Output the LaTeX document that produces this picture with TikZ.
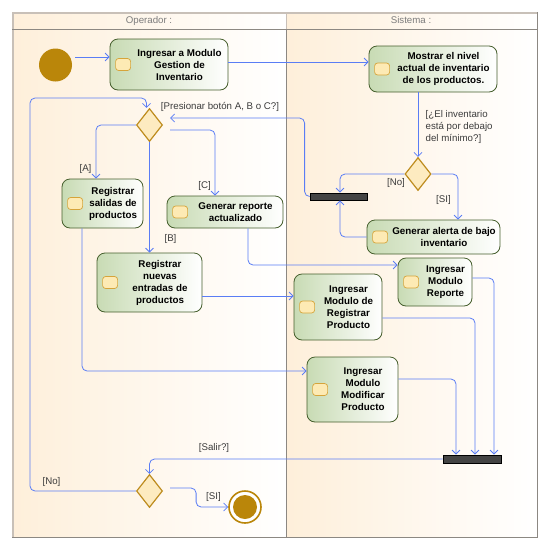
\documentclass[tikz,border=0pt]{standalone}
\usepackage{fontspec}
\setmainfont{Liberation Sans}
\usetikzlibrary{shapes.geometric,arrows.meta,positioning,calc}
\definecolor{flowblue}{RGB}{90,125,245}
\definecolor{actgreen}{RGB}{200,219,180}
\definecolor{actedge}{RGB}{70,95,45}
\definecolor{pinfill}{RGB}{253,234,180}
\definecolor{pinedge}{RGB}{214,164,58}
\definecolor{decfill}{RGB}{253,235,192}
\definecolor{decedge}{RGB}{190,140,30}
\definecolor{gold}{RGB}{186,134,10}
\definecolor{bargray}{RGB}{68,68,68}
\definecolor{lanepeach}{RGB}{254,239,218}
\definecolor{lanegray}{RGB}{140,136,130}
\definecolor{laneedge}{RGB}{200,192,184}
\definecolor{guardgray}{RGB}{60,60,60}
\definecolor{headgray}{RGB}{125,125,125}

\begin{document}
\begin{tikzpicture}[x=1pt,y=-1pt,
    act/.style={draw=actedge, line width=0.8pt, rounded corners=8pt, left color=actgreen, right color=white, inner sep=0pt},
    acttxt/.style={font=\fontsize{9.8}{12}\selectfont\bfseries, align=center, inner sep=0pt},
    pin/.style={draw=pinedge, fill=pinfill, rounded corners=3pt, line width=0.7pt, minimum width=15pt, minimum height=12pt, inner sep=0pt},
    decide/.style={diamond, draw=decedge, fill=decfill, line width=1.2pt, minimum width=26pt, minimum height=33pt, inner sep=0pt},
    forkbar/.style={draw=black, fill=bargray, line width=0.8pt, inner sep=0pt},
    flow/.style={draw=flowblue, line width=0.8pt, rounded corners=5pt, -{Straight Barb[length=4pt,width=8pt]}},
    guard/.style={font=\fontsize{9.7}{12}\selectfont, text=guardgray, inner sep=0pt},
    lanehead/.style={font=\fontsize{9.7}{12}\selectfont, text=headgray, inner sep=0pt}]

    \useasboundingbox (0,0) rectangle (552,547);
    \fill[white] (0,0) rectangle (552,547);

    % Lanes
    \shade[left color=lanepeach, right color=white] (12,12) rectangle (286,537);
    \shade[left color=lanepeach, right color=white] (286,12) rectangle (537,537);
    \draw[laneedge, line width=1.6pt] (12.8,537) -- (12.8,12.8) -- (537,12.8);
    \draw[lanegray, line width=0.9pt] (537,12) -- (537,537) -- (12,537);
    \draw[lanegray, line width=0.9pt] (286,29) -- (286,537);
    \draw[laneedge, line width=0.9pt] (286,12) -- (286,29);
    \draw[lanegray, line width=0.9pt] (12,29) -- (537,29);
    \node[lanehead] (opr) at (149,20.5) {Operador :};
    \node[lanehead] (sys) at (411,20.5) {Sistema :};

    % Actions
    \foreach \n/\cx/\cy/\bw/\bh/\txt in {
        a1/169/64.5/118/51/{Ingresar a Modulo\\Gestion de\\Inventario},
        a2/433/69/128/46/{Mostrar el nivel\\actual de inventario\\de los productos.},
        dA/102.5/203.5/81/49/{Registrar\\salidas de\\productos},
        dC/225/212/116/32/{Generar reporte\\actualizado},
        dB/149.5/282.5/105/59/{Registrar\\nuevas\\entradas de\\productos},
        alert/433.5/237/133/34/{Generar alerta de bajo\\inventario},
        rep/435/282/74/48/{Ingresar\\Modulo\\Reporte},
        reg/338/307/88/66/{Ingresar\\Modulo de\\Registrar\\Producto},
        mod/352.5/389.5/91/65/{Ingresar\\Modulo\\Modificar\\Producto}} {
        \node[act, minimum width=\bw pt, minimum height=\bh pt] (\n) at (\cx,\cy) {};
        \node[pin] (\n p) at ([xshift=13.5pt]\n.west) {};
        \node[acttxt] (\n t) at ([xshift=10.5pt]\n.center) {\txt};
    }

    % Control nodes
    \node[circle, fill=gold, minimum size=33pt, inner sep=0pt] (start) at (55.5,65) {};
    \node[decide] (dec1) at (149.5,125) {};
    \node[decide] (dec2) at (418,174) {};
    \node[decide] (dec3) at (149.5,491) {};
    \node[forkbar, minimum width=57pt, minimum height=7pt] (bar1) at (338.5,196.5) {};
    \node[forkbar, minimum width=58pt, minimum height=8pt] (bar2) at (472,459) {};
    \node[circle, draw=gold, fill=white, line width=1.6pt, minimum size=32pt, inner sep=0pt] (fin) at (245,507) {};
    \node[circle, fill=gold, minimum size=24pt, inner sep=0pt] (fincore) at (fin) {};
    \coordinate (loopcorner) at (30,98);

    % Flows
    \draw[flow] ([shift={(3,-8)}]start.east) -- (a1.west |- 0,57);
    \draw[flow] ([yshift=2.5pt]a1.east) -- (a2.west |- 0,62);
    \draw[flow] (dec2.north |- a2.south) -- (dec2.north);
    \draw[flow] (dec2.west) -| ([xshift=1.5pt]bar1.north);
    \draw[flow] (dec2.east) -| ([xshift=24.5pt]alert.north);
    \draw[flow] (alert.west) -| ([xshift=1.5pt]bar1.south);
    \draw[flow] (bar1.west) -- ++(-5,0) |- ([shift={(7,-7)}]dec1.east);
    \draw[flow] (dec1.west) -| ([xshift=-6.5pt]dA.north);
    \draw[flow] ([shift={(7,5)}]dec1.east) -| ([xshift=-10pt]dC.north);
    \draw[flow] (dec1.south) -- (dB.north);
    \draw[flow] ([yshift=-13.5pt]dB.east) -- (reg.west |- 0,296);
    \draw[flow] ([xshift=-20.5pt]dA.south) |- ([yshift=18.5pt]mod.west);
    \draw[flow] ([xshift=23pt]dC.south) |- ([yshift=17pt]rep.west);
    \draw[flow] ([yshift=4pt]rep.east) -| ([xshift=22pt]bar2.north);
    \draw[flow] ([yshift=-11pt]reg.east) -| ([xshift=3pt]bar2.north);
    \draw[flow] ([yshift=10.5pt]mod.east) -| ([xshift=-16pt]bar2.north);
    \draw[flow] (bar2.west) -| (dec3.north);
    \draw[flow] (dec3.west) -| (loopcorner) -| ([xshift=-3pt]dec1.north);
    \draw[flow] ([shift={(7,-3)}]dec3.east) -- ++(26,0) |- (fin.west);

    % Guards
    \node[guard] (gPres) at (220,107) {[Presionar botón A, B o C?]};
    \node[guard, anchor=west, align=left] (gMin) at (425.5,127) {[¿El inventario\\está por debajo\\del mínimo?]};
    \node[guard] (gNo1) at (396,183) {[No]};
    \node[guard] (gSi1) at (443.5,200) {[SI]};
    \node[guard] (gA) at (85.5,169) {[A]};
    \node[guard] (gC) at (204.5,186) {[C]};
    \node[guard] (gB) at (170.5,239) {[B]};
    \node[guard] (gSalir) at (214,448) {[Salir?]};
    \node[guard] (gNo2) at (51.5,482) {[No]};
    \node[guard] (gSi2) at (213.5,497) {[SI]};
\end{tikzpicture}
\end{document}
